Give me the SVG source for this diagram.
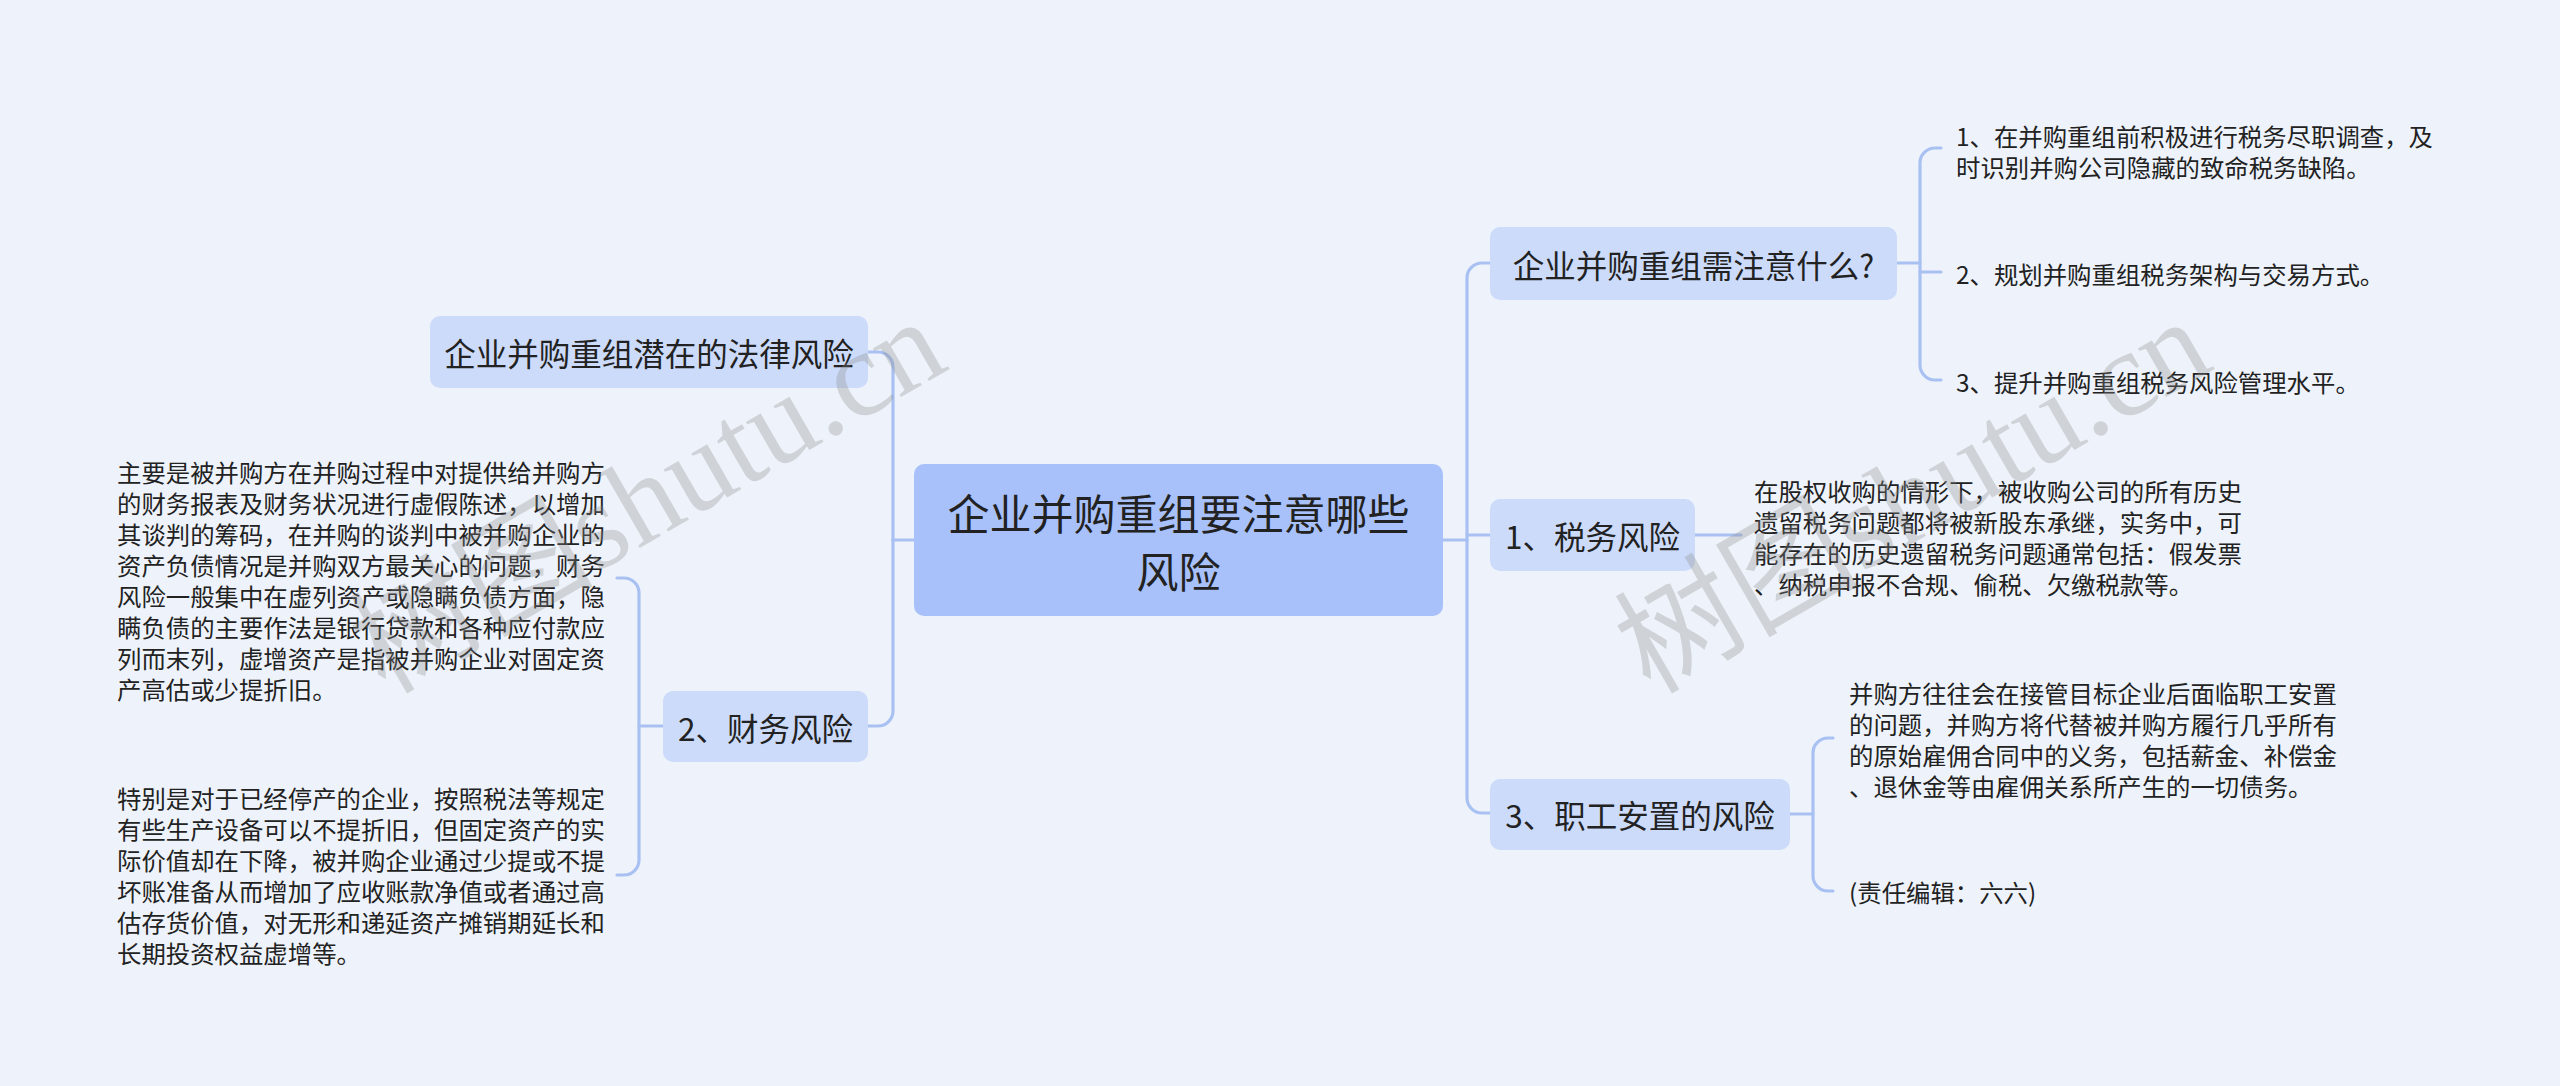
<svg xmlns="http://www.w3.org/2000/svg" width="2560" height="1086" viewBox="0 0 2560 1086">
<style>
.bg{fill:#eef3fb}
.root{fill:#a8c1fa}
.sub{fill:#ccdbfa}
.t{font-family:"Noto Sans CJK SC","Noto Sans",sans-serif;fill:#222;dominant-baseline:central}
.rt{font-size:42px;text-anchor:middle}
.st{font-size:31.5px;text-anchor:middle}
.lt{font-size:24.4px}
.ln{fill:none;stroke:#a9c1f2;stroke-width:3.2;stroke-linecap:round}
.wm{font-family:"Liberation Serif","Noto Sans CJK SC",serif;font-size:122px;fill:#8a8a8a;opacity:0.3}
</style>
<rect class="bg" x="0" y="0" width="2560" height="1086"/>
<g id="connectors">
<path class="ln" d="M1443,540 H1467"/>
<path class="ln" d="M1467,540 V278 A15,15 0 0 1 1482,263 H1490"/>
<path class="ln" d="M1467,540 V798 A15,15 0 0 0 1482,813 H1490"/>
<path class="ln" d="M1467,535 H1490"/>
<path class="ln" d="M1897,263 H1920"/>
<path class="ln" d="M1941,148 H1935 A15,15 0 0 0 1920,163 V365 A15,15 0 0 0 1935,380 H1941"/>
<path class="ln" d="M1920,272 H1941"/>
<path class="ln" d="M1695,535 H1741"/>
<path class="ln" d="M1790,814 H1813"/>
<path class="ln" d="M1833,738 H1828 A15,15 0 0 0 1813,753 V876 A15,15 0 0 0 1828,891 H1833"/>
<path class="ln" d="M914,540 H893"/>
<path class="ln" d="M893,540 V367 A15,15 0 0 0 878,352 H868"/>
<path class="ln" d="M893,540 V711 A15,15 0 0 1 878,726 H868"/>
<path class="ln" d="M663,726 H639"/>
<path class="ln" d="M617,578 H624 A15,15 0 0 1 639,593 V860 A15,15 0 0 1 624,875 H617"/>
</g>
<g id="root">
<rect class="root" x="914" y="464" width="529" height="152" rx="10"/>
<text class="t rt" x="1178.5" y="511">企业并购重组要注意哪些</text>
<text class="t rt" x="1178.5" y="569">风险</text>
</g>
<g id="n-law">
<rect class="sub" x="430" y="316" width="438" height="72" rx="10"/>
<text class="t st" x="649" y="352">企业并购重组潜在的法律风险</text>
</g>
<g id="n-finance">
<rect class="sub" x="663" y="691" width="205" height="71" rx="10"/>
<text class="t st" x="765.5" y="727">2、财务风险</text>
</g>
<g id="n-finance-1">
<text class="t lt" x="117"><tspan x="117" y="471">主要是被并购方在并购过程中对提供给并购方</tspan><tspan x="117" y="502">的财务报表及财务状况进行虚假陈述，以增加</tspan><tspan x="117" y="533">其谈判的筹码，在并购的谈判中被并购企业的</tspan><tspan x="117" y="564">资产负债情况是并购双方最关心的问题，财务</tspan><tspan x="117" y="595">风险一般集中在虚列资产或隐瞒负债方面，隐</tspan><tspan x="117" y="626">瞒负债的主要作法是银行贷款和各种应付款应</tspan><tspan x="117" y="657">列而末列，虚增资产是指被并购企业对固定资</tspan><tspan x="117" y="688">产高估或少提折旧。</tspan></text>
</g>
<g id="n-finance-2">
<text class="t lt" x="117"><tspan x="117" y="797">特别是对于已经停产的企业，按照税法等规定</tspan><tspan x="117" y="828">有些生产设备可以不提折旧，但固定资产的实</tspan><tspan x="117" y="859">际价值却在下降，被并购企业通过少提或不提</tspan><tspan x="117" y="890">坏账准备从而增加了应收账款净值或者通过高</tspan><tspan x="117" y="921">估存货价值，对无形和递延资产摊销期延长和</tspan><tspan x="117" y="952">长期投资权益虚增等。</tspan></text>
</g>
<g id="n-attention">
<rect class="sub" x="1490" y="227" width="407" height="73" rx="10"/>
<text class="t st" x="1693.5" y="264">企业并购重组需注意什么?</text>
</g>
<g id="n-attention-1">
<text class="t lt" x="1956"><tspan x="1956" y="135">1、在并购重组前积极进行税务尽职调查，及</tspan><tspan x="1956" y="166">时识别并购公司隐藏的致命税务缺陷。</tspan></text>
</g>
<g id="n-attention-2">
<text class="t lt" x="1956" y="273">2、规划并购重组税务架构与交易方式。</text>
</g>
<g id="n-attention-3">
<text class="t lt" x="1956" y="381">3、提升并购重组税务风险管理水平。</text>
</g>
<g id="n-tax">
<rect class="sub" x="1490" y="499" width="205" height="72" rx="10"/>
<text class="t st" x="1592.5" y="535">1、税务风险</text>
</g>
<g id="n-tax-1">
<text class="t lt" x="1754"><tspan x="1754" y="490">在股权收购的情形下，被收购公司的所有历史</tspan><tspan x="1754" y="521">遗留税务问题都将被新股东承继，实务中，可</tspan><tspan x="1754" y="552">能存在的历史遗留税务问题通常包括：假发票</tspan><tspan x="1754" y="583">、纳税申报不合规、偷税、欠缴税款等。</tspan></text>
</g>
<g id="n-staff">
<rect class="sub" x="1490" y="779" width="300" height="71" rx="10"/>
<text class="t st" x="1640" y="814">3、职工安置的风险</text>
</g>
<g id="n-staff-1">
<text class="t lt" x="1849"><tspan x="1849" y="692">并购方往往会在接管目标企业后面临职工安置</tspan><tspan x="1849" y="723">的问题，并购方将代替被并购方履行几乎所有</tspan><tspan x="1849" y="754">的原始雇佣合同中的义务，包括薪金、补偿金</tspan><tspan x="1849" y="785">、退休金等由雇佣关系所产生的一切债务。</tspan></text>
</g>
<g id="n-staff-2">
<text class="t lt" x="1849" y="891">(责任编辑：六六)</text>
</g>
<g id="watermark">
<text class="wm" x="385" y="695" transform="rotate(-30 385 695)">树图shutu.cn</text>
<text class="wm" x="1650" y="695" transform="rotate(-30 1650 695)">树图shutu.cn</text>
</g>
</svg>
